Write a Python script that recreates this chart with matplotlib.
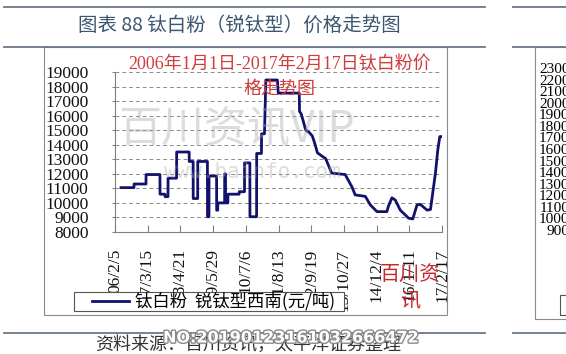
import numpy as np
import pandas as pd
import matplotlib
matplotlib.use("Agg")
import matplotlib.pyplot as plt
import matplotlib.dates as mdates
import matplotlib.patheffects as pe
from matplotlib.lines import Line2D
from matplotlib.patches import Rectangle

# price of anatase titanium dioxide, southwest China (yuan/ton)
price_dates = [
    "2006-04-20", "2006-09-27", "2006-09-28", "2007-02-22", "2007-02-23",
    "2007-08-13", "2007-08-14", "2007-10-14", "2007-10-15", "2007-11-20",
    "2007-11-21", "2008-03-05", "2008-03-06", "2008-08-07", "2008-08-08",
    "2008-09-25", "2008-09-26", "2008-11-20", "2008-11-21", "2009-03-20",
    "2009-03-21", "2009-04-08", "2009-04-09", "2009-07-11", "2009-07-12",
    "2009-07-25", "2009-07-26", "2009-10-18", "2009-10-19", "2009-10-28",
    "2009-10-29", "2009-11-27", "2009-11-28", "2010-04-15", "2010-04-16",
    "2010-06-20", "2010-06-21", "2010-08-25", "2010-08-26", "2010-11-16",
    "2010-11-17", "2011-01-15", "2011-01-16", "2011-02-21", "2011-03-10",
    "2011-07-30", "2011-08-10", "2012-04-25", "2012-04-28", "2012-05-20",
    "2012-07-14", "2012-08-25", "2012-10-03", "2012-11-07", "2012-12-04",
    "2013-02-03", "2013-03-16", "2013-05-29", "2013-11-12", "2014-02-03",
    "2014-03-15", "2014-07-18", "2014-09-18", "2014-12-09", "2015-04-10",
    "2015-04-27", "2015-06-11", "2015-07-22", "2015-09-22", "2016-01-03",
    "2016-02-23", "2016-04-15", "2016-05-26", "2016-08-18", "2016-09-28",
    "2016-11-28", "2016-12-27", "2017-01-21", "2017-02-05",
]
price_values = [
    11050, 11050, 11300, 11300, 11950,
    11950, 10600, 10600, 10430, 10430,
    11700, 11700, 13500, 13500, 12850,
    12850, 10300, 10300, 12850, 12850,
    9050, 9050, 11850, 11850, 9500,
    9500, 10000, 10000, 12000, 12000,
    10000, 10000, 10600, 10600, 10770,
    10770, 12750, 12750, 9050, 9050,
    13400, 13400, 14750, 14750, 18450,
    18450, 17550, 17550, 16300, 16100,
    15000, 14850, 14600, 14000, 13450,
    13200, 13050, 12050, 11950, 11100,
    10550, 10450, 9860, 9400, 9400,
    9750, 10350, 10200, 9500, 8950,
    8900, 9860, 9900, 9500, 9550,
    12040, 13640, 14560, 14560,
]
xtick_dates = ["2006-02-05", "2007-03-15", "2008-04-21", "2009-05-29", "2010-07-06",
               "2011-08-13", "2012-09-19", "2013-10-27", "2014-12-04", "2016-01-11",
               "2017-02-17"]
xtick_labels = ["06/2/5", "07/3/15", "08/4/21", "09/5/29", "10/7/6", "11/8/13",
                "12/9/19", "13/10/27", "14/12/4", "16/1/11", "17/2/17"]
yticks = list(range(8000, 19001, 1000))
# y labels of the neighbouring chart, cut by the page edge
right_yticks = list(range(9000, 23001, 1000))

W, H = 566, 354
cjk = ["Noto Sans CJK SC", "DejaVu Sans"]
serif_cjk = ["Liberation Serif", "Noto Sans CJK SC"]

fig = plt.figure(figsize=(W / 100, H / 100), dpi=100)

def fx(px):
    return px / W

def fy(py):
    return 1 - py / H

def hline(x0, x1, y, color="#6b7886", lw=1.3):
    fig.add_artist(Line2D([fx(x0), fx(x1)], [fy(y), fy(y)], color=color, lw=lw))

# page rules
hline(4, 485, 7)
hline(4, 485, 47)
hline(4, 485, 333)
hline(513, 566, 7)
hline(513, 566, 47)
hline(513, 566, 333)

fig.text(fx(239), fy(25), "图表 88 钛白粉（锐钛型）价格走势图", ha="center", va="center",
         fontsize=14, color="#3d5670", family=cjk)

# chart frames
fig.add_artist(Rectangle((fx(44), fy(315)), fx(447) - fx(44), fy(47) - fy(315),
                         fill=False, ec="#8a8a8a", lw=0.8))
fig.add_artist(Rectangle((fx(535), fy(319)), fx(600) - fx(535), fy(47) - fy(319),
                         fill=False, ec="#8a8a8a", lw=0.8))
fig.add_artist(Rectangle((fx(560), fy(315)), fx(600) - fx(560), fy(295) - fy(315),
                         fill=False, ec="#555555", lw=0.8))

# main axes
ax = fig.add_axes([fx(115), fy(232), (442 - 115) / W, (232 - 72) / H])
xd = mdates.date2num(pd.to_datetime(price_dates))
line, = ax.plot(xd, price_values, color="#12126e", lw=2.0, zorder=3,
                label="钛白粉  锐钛型西南(元/吨)")

ax.set_xlim(mdates.date2num(pd.Timestamp(xtick_dates[0])),
            mdates.date2num(pd.Timestamp(xtick_dates[-1])))
ax.set_ylim(yticks[0], yticks[-1])
ax.set_yticks(yticks)
ax.set_yticklabels([str(v) for v in yticks], fontfamily="Liberation Serif", fontsize=12.5)
ax.set_xticks(mdates.date2num(pd.to_datetime(xtick_dates)))
ax.set_xticklabels(xtick_labels, rotation=90, fontfamily="Liberation Serif", fontsize=12.5)
ax.tick_params(axis="y", direction="out", length=2, pad=17, colors="#808080", labelcolor="#111111")
ax.tick_params(axis="x", direction="in", length=5, pad=12, colors="#808080", labelcolor="#111111")
ax.yaxis.grid(True, ls=(0, (4, 3)), color="#8c8c8c", lw=0.7, zorder=1)
for s in ["top", "right"]:
    ax.spines[s].set_visible(False)
for s in ["left", "bottom"]:
    ax.spines[s].set_color("#808080")
    ax.spines[s].set_linewidth(0.8)

# legend box covers the lower tick labels
fig.add_artist(Rectangle((fx(74), fy(311)), fx(344) - fx(74), fy(292) - fy(311),
                         fc="white", ec="#555555", lw=0.8, zorder=4))
leg = fig.legend(handles=[line], loc="center left", bbox_to_anchor=(fx(92), fy(301.5)),
                 frameon=False, prop={"family": cjk, "size": 12.5}, handlelength=2.15,
                 handletextpad=0.35, borderpad=0, borderaxespad=0)
leg.set_zorder(5)

# annotations on the chart
fig.text(fx(280), fy(65), "2006年1月1日-2017年2月17日钛白粉价", ha="center", va="center",
         fontsize=13, color="#d03c3c", family=serif_cjk)
fig.text(fx(280), fy(89), "格走势图", ha="center", va="center",
         fontsize=13, color="#d03c3c", family=serif_cjk)
fig.text(fx(410), fy(275), "百川资", ha="center", va="center", fontsize=14.5,
         color="#c8282d", family=cjk, zorder=11)
fig.text(fx(410), fy(302), "讯", ha="center", va="center", fontsize=14.5,
         color="#c8282d", family=cjk, zorder=11)

# watermarks
fig.text(fx(237), fy(131), "百川资讯VIP", ha="center", va="center", fontsize=31,
         color="#a8a8a8", alpha=0.4, family=cjk)
fig.text(fx(252), fy(172), "www.bainfo.com", ha="center", va="center", fontsize=15,
         color="#a8a8a8", alpha=0.4, family="DejaVu Sans Mono")

# source line
fig.text(fx(95), fy(345), "资料来源：百川资讯，太平洋证券整理", ha="left", va="center",
         fontsize=13, style="italic", color="#333333", family=cjk, zorder=4)
fig.text(fx(291), fy(338), "NO:20190123161032666472", ha="center", va="center",
         fontsize=11.5, fontweight="bold", color="white", zorder=5,
         path_effects=[pe.withStroke(linewidth=2, foreground="#8a8a8a")])

# neighbouring chart, only its y labels are on the page
ax2 = fig.add_axes([fx(584), fy(230), 0.1, (230 - 68) / H])
ax2.set_ylim(right_yticks[0], right_yticks[-1])
ax2.set_yticks(right_yticks)
ax2.set_yticklabels([str(v) for v in right_yticks], fontfamily="Liberation Serif", fontsize=11)
ax2.tick_params(axis="y", length=0, pad=5)
ax2.set_xticks([])
for s in ax2.spines.values():
    s.set_visible(False)

fig.savefig("out.png", dpi=100)
